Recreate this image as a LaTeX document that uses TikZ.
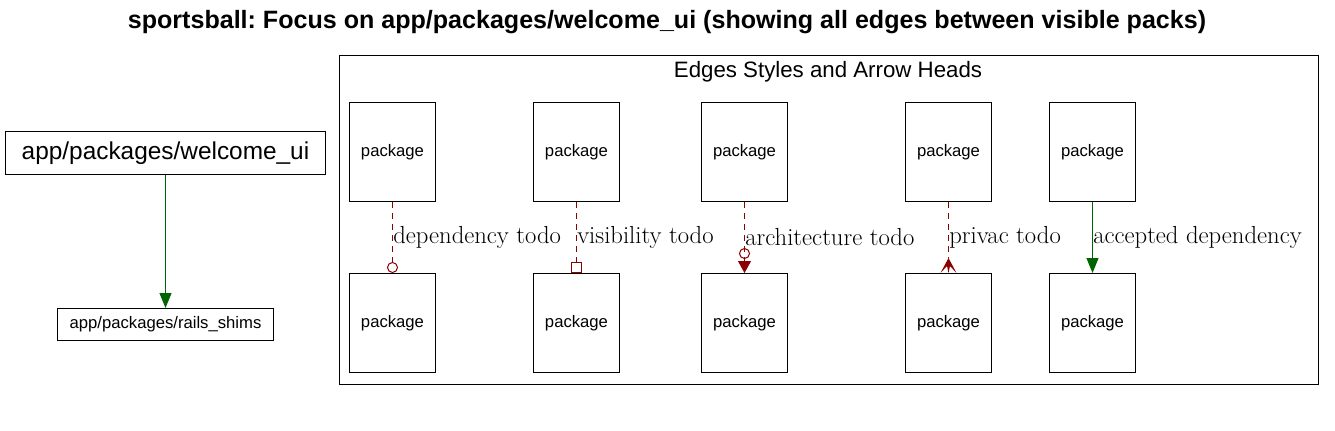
\documentclass[tikz,border=0pt]{standalone}
\usepackage{fontspec}
\newfontfamily\arial{Liberation Sans}
\usetikzlibrary{arrows.meta}
\definecolor{dred}{RGB}{139,0,0}
\definecolor{dgreen}{RGB}{0,100,0}
\frenchspacing
\begin{document}
\begin{tikzpicture}[x=0.75pt,y=-0.75pt,
  pkg/.style={draw=black,line width=0.75pt,minimum width=64.5pt,minimum height=74.25pt,inner sep=0pt,font=\arial\fontsize{12.5}{14}\selectfont},
  elabel/.style={anchor=west,inner sep=0pt,font=\fontsize{18.5}{20}\selectfont},
  todo/.style={draw=dred,line width=0.75pt,dash pattern=on 4.5pt off 3.75pt},
  acc/.style={draw=dgreen,line width=0.75pt,-{Triangle[length=11.25pt,width=9pt,fill=dgreen,dgreen]}}
]
\useasboundingbox (0,0) rectangle (1335,431);
\node[font=\arial\bfseries\fontsize{18.8}{20}\selectfont] (title) at (667,22) {sportsball: Focus on app/packages/welcome\_ui (showing all edges between visible packs)};
% left
\node[draw,line width=0.75pt,minimum width=240pt,minimum height=32.25pt,inner sep=0pt,font=\arial\fontsize{18.3}{20}\selectfont] (wui) at (165.5,153) {app/packages/welcome\_ui};
\node[draw,line width=0.75pt,minimum width=162pt,minimum height=24pt,inner sep=0pt,font=\arial\fontsize{12.5}{14}\selectfont] (rs) at (165.5,324.5) {app/packages/rails\_shims};
\draw[acc] (wui) -- (rs);
% cluster
\draw[line width=0.75pt] (339.5,55.5) rectangle (1318.5,384.5);
\node[font=\arial\fontsize{16.7}{18}\selectfont] (ctitle) at (828,72) {Edges Styles and Arrow Heads};
% packages
\foreach \n/\x in {1/392.5,2/576.5,3/744.5,4/948.5,5/1092.5}{
  \node[pkg] (t\n) at (\x,152) {package};
  \node[pkg] (b\n) at (\x,323) {package};
}
% dependency
\draw[todo,-{Circle[open,length=8.25pt,width=8.25pt,line width=0.75pt,dred]}] (t1) -- (b1);
\node[elabel] (l1) at (393,237) {dependency todo};
% visibility
\draw[todo,-{Square[open,length=8.5pt,width=8.5pt,line width=0.75pt,dred]}] (t2) -- (b2);
\node[elabel] (l2) at (577,237) {visibility todo};
% architecture
\draw[todo,-{Circle[open,length=8.25pt,width=8.25pt,line width=0.75pt,dred,sep=1.5pt] Triangle[length=9pt,width=9.75pt,fill=dred,dred]}] (t3) -- (b3);
\node[elabel] (l3) at (745,237) {architecture todo};
% privac (crow)
\coordinate (c4) at ([yshift=11.25pt]b4.north);
\draw[todo] (t4) -- (c4);
\fill[dred] (c4) -- ([xshift=6pt]b4.north) -- ([xshift=1.1pt,yshift=5.25pt]b4.north) -- (b4.north) -- ([xshift=-1.1pt,yshift=5.25pt]b4.north) -- ([xshift=-6pt]b4.north) -- cycle;
\node[elabel] (l4) at (949,237) {privac todo};
% accepted
\draw[acc] (t5) -- (b5);
\node[elabel] (l5) at (1093,237) {accepted dependency};
\end{tikzpicture}
\end{document}
